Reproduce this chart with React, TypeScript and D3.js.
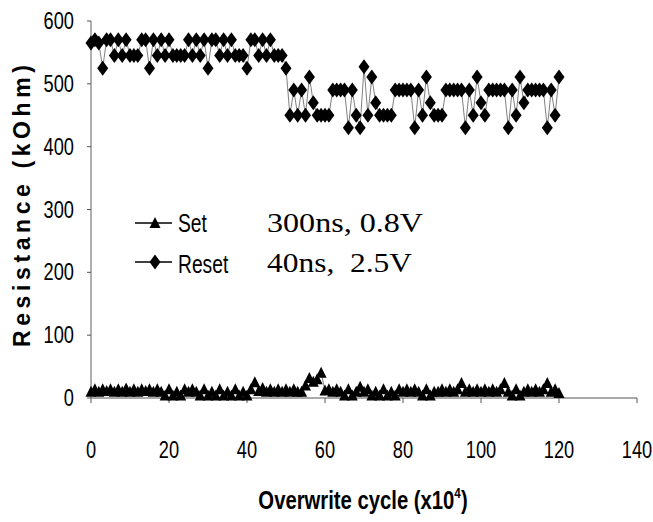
import React from 'react';
import * as d3 from 'd3';

const cycles = [
  0, 1, 2, 3, 4, 5, 6, 7, 8, 9, 10, 11, 12, 13, 14, 15, 16, 17, 18, 19,
  20, 21, 22, 23, 24, 25, 26, 27, 28, 29, 30, 31, 32, 33, 34, 35, 36, 37, 38, 39,
  40, 41, 42, 43, 44, 45, 46, 47, 48, 49, 50, 51, 52, 53, 54, 55, 56, 57, 58, 59,
  60, 61, 62, 63, 64, 65, 66, 67, 68, 69, 70, 71, 72, 73, 74, 75, 76, 77, 78, 79,
  80, 81, 82, 83, 84, 85, 86, 87, 88, 89, 90, 91, 92, 93, 94, 95, 96, 97, 98, 99,
  100, 101, 102, 103, 104, 105, 106, 107, 108, 109, 110, 111, 112, 113, 114, 115, 116, 117, 118, 119,
  120,
];

const resetValues = [
  565, 570, 565, 525, 570, 570, 545, 570, 545, 570, 545, 545, 545, 570, 570, 525, 570, 545, 570, 545,
  570, 545, 545, 545, 545, 570, 545, 570, 545, 570, 525, 570, 570, 545, 570, 545, 570, 545, 545, 545,
  525, 570, 570, 545, 570, 545, 570, 545, 545, 545, 525, 450, 490, 450, 490, 450, 511, 470, 450, 450,
  450, 450, 490, 490, 490, 490, 430, 490, 450, 430, 527, 450, 511, 470, 450, 450, 450, 450, 490, 490,
  490, 490, 490, 430, 490, 450, 511, 470, 450, 450, 450, 490, 490, 490, 490, 490, 430, 490, 450, 511,
  470, 450, 490, 490, 490, 490, 490, 430, 490, 450, 511, 470, 490, 490, 490, 490, 490, 430, 490, 450,
  511,
];

const setValues = [
  10, 14, 10, 14, 11, 14, 10, 14, 10, 15, 10, 14, 10, 14, 11, 14, 10, 14, 10, 4,
  14, 4, 10, 4, 14, 10, 14, 10, 4, 14, 4, 10, 4, 14, 4, 10, 4, 14, 4, 10,
  4, 14, 25, 11, 16, 10, 14, 10, 14, 10, 14, 10, 14, 10, 10, 20, 32, 26, 30, 40,
  12, 14, 10, 14, 10, 4, 14, 4, 10, 18, 10, 14, 4, 10, 4, 14, 4, 10, 4, 14,
  10, 14, 10, 14, 10, 4, 14, 4, 10, 10, 14, 10, 14, 10, 14, 24, 10, 14, 10, 14,
  10, 14, 10, 14, 10, 14, 24, 10, 4, 14, 4, 10, 14, 10, 14, 10, 14, 24, 10, 14,
  8,
];

const xTicks = [0, 20, 40, 60, 80, 100, 120, 140];
const yTicks = [0, 100, 200, 300, 400, 500, 600];

const seriesNames = ['Set', 'Reset'];
const conditionLabels = ['300ns, 0.8V', '40ns,  2.5V'];

const SANS = "'Liberation Sans', Arial, Helvetica, sans-serif";
const SERIF = "'Liberation Serif', 'Times New Roman', serif";

const W = 653;
const H = 522;

const diamond = 'M0,-7.5 L5.5,0 L0,7.5 L-5.5,0 Z';
const triangle = 'M0,-6 L5.5,5 L-5.5,5 Z';

export default function App() {
  const x = d3.scaleLinear().domain([0, 140]).range([91, 637]);
  const y = d3.scaleLinear().domain([0, 600]).range([398, 21]);

  const resetPts = cycles.map((c, i) => [x(c), y(resetValues[i])] as [number, number]);
  const setPts = cycles.map((c, i) => [x(c), y(setValues[i])] as [number, number]);
  const line = d3.line();

  return (
    <svg width={W} height={H} style={{ position: 'absolute', left: 0, top: 0, background: '#fff' }}>
      <rect x={0} y={0} width={W} height={H} fill="#fff" />

      {/* axes */}
      <line x1={x(0)} x2={x(0)} y1={y(600)} y2={y(0)} stroke="#7a7a7a" strokeWidth={1.2} />
      <line x1={x(0)} x2={x(140)} y1={y(0)} y2={y(0)} stroke="#555" strokeWidth={1.2} />
      {yTicks.map((t) => (
        <g key={'yt' + t}>
          <line x1={x(0) - 4} x2={x(0)} y1={y(t)} y2={y(t)} stroke="#555" strokeWidth={1} />
          <text
            transform={`translate(74,${y(t) + 8}) scale(0.76,1)`}
            textAnchor="end"
            fontFamily={SANS}
            fontSize={24}
            fill="#000"
          >
            {t}
          </text>
        </g>
      ))}
      {xTicks.map((t) => (
        <g key={'xt' + t}>
          <line x1={x(t)} x2={x(t)} y1={y(0)} y2={y(0) + 5} stroke="#555" strokeWidth={1} />
          <text
            transform={`translate(${x(t)},458) scale(0.76,1)`}
            textAnchor="middle"
            fontFamily={SANS}
            fontSize={24}
            fill="#000"
          >
            {t}
          </text>
        </g>
      ))}

      {/* series lines */}
      <path d={line(resetPts) || ''} fill="none" stroke="#808080" strokeWidth={1} />
      <path d={line(setPts) || ''} fill="none" stroke="#808080" strokeWidth={1} />
      {setPts.map((p, i) => (
        <path key={'s' + i} d={triangle} transform={`translate(${p[0]},${p[1]})`} fill="#000" />
      ))}
      {resetPts.map((p, i) => (
        <path key={'r' + i} d={diamond} transform={`translate(${p[0]},${p[1]})`} fill="#000" />
      ))}

      {/* legend */}
      <line x1={135} x2={172} y1={223} y2={223} stroke="#000" strokeWidth={1.3} />
      <path d={triangle} transform="translate(155,223)" fill="#000" />
      <text transform="translate(178,232) scale(0.74,1)" fontFamily={SANS} fontSize={26} fill="#000">
        {seriesNames[0]}
      </text>
      <line x1={135} x2={172} y1={262} y2={262} stroke="#000" strokeWidth={1.3} />
      <path d={diamond} transform="translate(155,262)" fill="#000" />
      <text transform="translate(178,273) scale(0.74,1)" fontFamily={SANS} fontSize={26} fill="#000">
        {seriesNames[1]}
      </text>
      <text
        x={267}
        y={232}
        fontFamily={SERIF}
        fontSize={28}
        textLength={156}
        lengthAdjust="spacingAndGlyphs"
        style={{ whiteSpace: 'pre' }}
        fill="#000"
      >
        {conditionLabels[0]}
      </text>
      <text
        x={267}
        y={272}
        fontFamily={SERIF}
        fontSize={28}
        textLength={145}
        lengthAdjust="spacingAndGlyphs"
        style={{ whiteSpace: 'pre' }}
        fill="#000"
      >
        {conditionLabels[1]}
      </text>

      {/* axis titles */}
      <text
        transform="translate(363,509) scale(0.78,1)"
        textAnchor="middle"
        fontFamily={SANS}
        fontWeight="bold"
        fontSize={26}
        fill="#000"
      >
        Overwrite cycle (x10
        <tspan dy={-11} fontSize={15}>4</tspan>
        <tspan dy={11}>)</tspan>
      </text>
      <text
        transform="translate(30,206) rotate(-90)"
        textAnchor="middle"
        fontFamily={SANS}
        fontWeight="bold"
        fontSize={23}
        textLength={282}
        lengthAdjust="spacing"
        fill="#000"
      >
        Resistance (kOhm)
      </text>
    </svg>
  );
}
